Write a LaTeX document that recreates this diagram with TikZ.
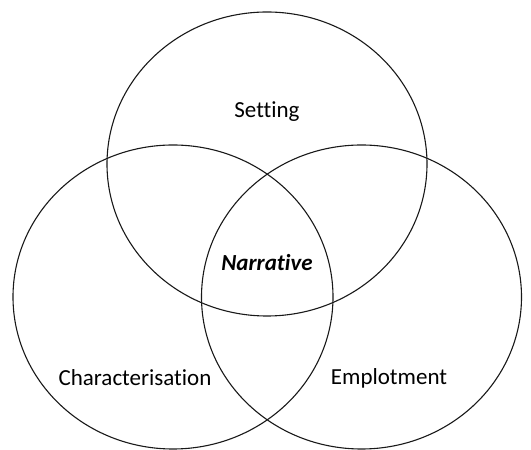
\documentclass[tikz,border=0pt]{standalone}
\usepackage{fontspec}
\setmainfont{Carlito}[Ligatures=NoCommon]
\begin{document}
\begin{tikzpicture}[x=1pt,y=1pt,
  ring/.style={line width=1.1pt, draw=black!90},
  lbl/.style={font=\fontsize{23}{27}\selectfont, inner sep=0pt}]
\useasboundingbox (0,0) rectangle (531,450);
\clip (0,0) rectangle (531,450);
\draw[ring] (267,286) ellipse [x radius=160, y radius=152];
\draw[ring] (173,153) ellipse [x radius=160, y radius=152];
\draw[ring] (361.5,153) ellipse [x radius=160, y radius=152];
\node[lbl] (setting) at (267,338) {Setting};
\node[lbl, font=\fontsize{23}{27}\selectfont\bfseries\itshape] (narr) at (267,187) {Narrative};
\node[lbl] (char) at (135,72) {Characterisation};
\node[lbl] (emp) at (389,72) {Emplotment};
\end{tikzpicture}
\end{document}
